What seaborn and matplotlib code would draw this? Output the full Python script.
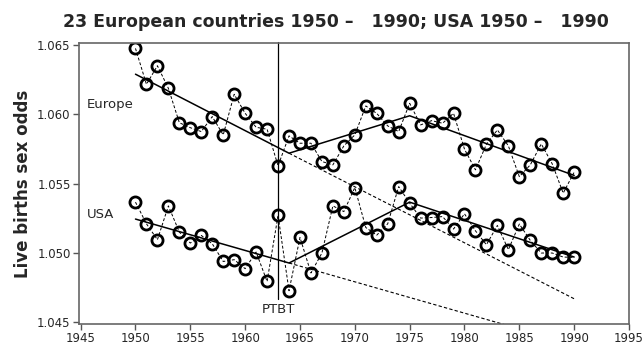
import matplotlib
matplotlib.use("Agg")
import matplotlib.pyplot as plt
import seaborn as sns
import pandas as pd

years = list(range(1950, 1991))
europe = [1.06476, 1.06217, 1.06351, 1.06188, 1.05940, 1.05904, 1.05876, 1.05984,
          1.05852, 1.06145, 1.06008, 1.05907, 1.05893, 1.05629, 1.05845, 1.05792,
          1.05792, 1.05660, 1.05636, 1.05773, 1.05852, 1.06061, 1.06007, 1.05917,
          1.05876, 1.06080, 1.05924, 1.05955, 1.05936, 1.06008, 1.05749, 1.05600,
          1.05785, 1.05888, 1.05773, 1.05551, 1.05636, 1.05787, 1.05643, 1.05432,
          1.05583]
usa = [1.05367, 1.05211, 1.05096, 1.05340, 1.05151, 1.05072, 1.05127, 1.05067,
       1.04939, 1.04952, 1.04887, 1.05007, 1.04795, 1.05271, 1.04728, 1.05112,
       1.04856, 1.05000, 1.05340, 1.05299, 1.05472, 1.05184, 1.05129, 1.05211,
       1.05479, 1.05360, 1.05252, 1.05256, 1.05263, 1.05173, 1.05283, 1.05160,
       1.05060, 1.05199, 1.05024, 1.05209, 1.05091, 1.05000, 1.05000, 1.04971,
       1.04968]

trend_years = [1950, 1964, 1975, 1990]
europe_trend = [1.0629, 1.0572, 1.0599, 1.0556]
usa_trend = [1.05245, 1.04928, 1.05367, 1.04971]

ext_years = [1964, 1990]
europe_ext = [1.0572, 1.0467]
usa_ext = [1.04928, 1.04340]

event_year = 1963
event_label = "PTBT"
xticks = list(range(1945, 2000, 5))
yticks = [1.045, 1.050, 1.055, 1.060, 1.065]

sns.set_theme(style="white")
plt.rcParams['font.family'] = ['DejaVu Sans']

fig = plt.figure(figsize=(6.44, 3.48), dpi=100)
ax = fig.add_axes([79/644, 1 - 324/348, (629-79)/644, (324-43)/348])

df = pd.DataFrame({"year": years + years,
                   "odds": europe + usa,
                   "region": ["Europe"] * len(years) + ["USA"] * len(years)})

for reg in ["Europe", "USA"]:
    sub = df[df.region == reg]
    sns.lineplot(data=sub, x="year", y="odds", ax=ax, color="black",
                 linestyle=(0, (3, 2)), linewidth=0.7, estimator=None,
                 marker="o", markersize=8, markerfacecolor="none",
                 markeredgecolor="black", markeredgewidth=2.0, legend=False)

tdf = pd.DataFrame({"year": trend_years + trend_years,
                    "odds": europe_trend + usa_trend,
                    "region": ["E"] * 4 + ["U"] * 4})
for reg in ["E", "U"]:
    sns.lineplot(data=tdf[tdf.region == reg], x="year", y="odds", ax=ax,
                 color="black", linewidth=1.1, estimator=None, legend=False)

edf = pd.DataFrame({"year": ext_years + ext_years,
                    "odds": europe_ext + usa_ext,
                    "region": ["E"] * 2 + ["U"] * 2})
for reg in ["E", "U"]:
    sns.lineplot(data=edf[edf.region == reg], x="year", y="odds", ax=ax,
                 color="black", linewidth=0.8, linestyle=(0, (3, 2)),
                 estimator=None, legend=False)

ax.plot([event_year, event_year], [1.0467, 1.0652], color="black", linewidth=0.9,
        clip_on=False)
ax.text(event_year, 1.0459, event_label, ha="center", va="center", fontsize=9.5)
ax.text(1945.6, 1.0607, "Europe", ha="left", va="center", fontsize=9.5)
ax.text(1945.6, 1.0528, "USA", ha="left", va="center", fontsize=9.5)

ax.set_xlim(1944.85, 1995.0)
ax.set_ylim(1.04488, 1.06515)
ax.set_xticks(xticks)
ax.set_yticks(yticks)
ax.set_yticklabels([f"{v:.3f}" for v in yticks])
ax.tick_params(axis="both", which="both", direction="out", length=4, width=1,
               color="#555555", labelsize=8.5, pad=2, bottom=True, left=True)
for s in ax.spines.values():
    s.set_color("#666666")
    s.set_linewidth(1.2)
ax.set_xlabel("")
ax.set_ylabel("Live births sex odds", fontsize=12, fontweight="bold", labelpad=4)

fig.text(336/644, 1 - 22/348, "23 European countries 1950 \u2013   1990; USA 1950 \u2013   1990",
         ha="center", va="center", fontsize=12.5, fontweight="bold")

fig.savefig("out.png", dpi=100)
